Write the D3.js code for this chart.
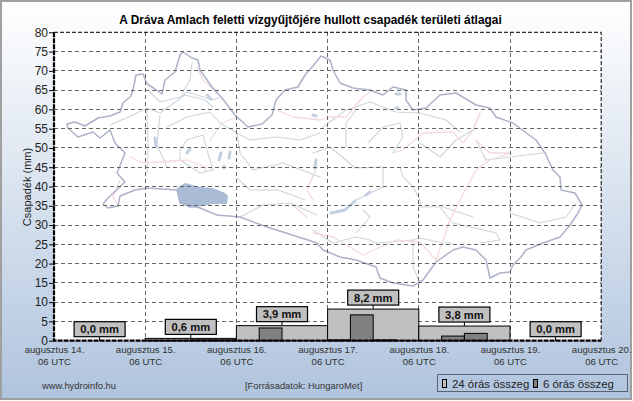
<!DOCTYPE html>
<html>
  <head>
    <meta charset="utf-8" />
    <title>Csapadék területi átlagai</title>
    <style>
      html, body { margin: 0; padding: 0; background: #fff; }
      svg { display: block; font-family: "Liberation Sans", Arial, sans-serif; }
      .grid { stroke: #666; stroke-width: 1; stroke-dasharray: 4,3; shape-rendering: crispEdges; }
      .box { fill: #c0c0c0; stroke: #000; stroke-width: 1.2; }
    </style>
  </head>
  <body>
    <div id="chart"></div>
    <script src="https://d3js.org/d3.v7.min.js"></script>
    <script>
      var titleText = "A Dráva Amlach feletti vízgyűjtőjére hullott csapadék területi átlagai";
      var dayLabels = ["augusztus 14.", "augusztus 15.", "augusztus 16.", "augusztus 17.", "augusztus 18.", "augusztus 19.", "augusztus 20."];
      var hourLabel = "06 UTC";
      var yTicks = d3.range(0, 85, 5);

      // 24 hour totals, one per day
      var dailySum = [0.0, 0.6, 3.9, 8.2, 3.8, 0.0];
      // 6 hour totals, four per day
      var sixHourSum = [
        0, 0, 0, 0,
        0.1, 0.1, 0.2, 0.2,
        0, 3.3, 0, 0,
        0.2, 6.7, 0.2, 0,
        0, 1.2, 1.9, 0,
        0, 0, 0, 0
      ];

      // backdrop map, traced in the map's own units
      var mapOutline = [[67,124],[75,122],[85,126],[98,118],[110,116],[120,112],[123,103],[131,96],[134,85],[136,75],[143,74],[147,84],[155,89],[162,94],[165,80],[175,72],[180,55],[183,52],[192,58],[198,60],[200,70],[212,87],[222,98],[235,115],[248,127],[262,124],[272,115],[276,100],[285,90],[298,87],[305,75],[313,66],[321,56],[330,60],[333,70],[340,83],[353,88],[370,90],[383,95],[393,87],[406,90],[406,100],[413,110],[426,108],[440,95],[456,93],[476,105],[490,108],[496,117],[513,123],[536,140],[545,153],[553,170],[560,177],[561,190],[575,193],[582,205],[578,213],[570,225],[560,237],[543,243],[526,250],[521,257],[513,265],[510,272],[500,273],[490,278],[486,260],[476,250],[463,247],[453,250],[436,262],[423,280],[413,286],[393,283],[380,278],[376,267],[356,260],[340,257],[323,250],[317,243],[283,232],[267,227],[240,217],[217,215],[200,208],[180,203],[177,190],[147,188],[135,190],[120,196],[118,206],[108,208],[103,204],[107,199],[125,182],[117,173],[125,153],[115,143],[110,130],[100,138],[93,132],[78,137],[68,128],[67,124]];
      var mapRivers = [
        [[110,125],[133,115],[147,108],[160,113],[185,95],[205,100],[213,107]],
        [[147,110],[148,150],[147,173]],
        [[148,90],[160,102],[180,97],[187,92],[213,100],[220,97]],
        [[192,63],[190,80],[182,93]],
        [[167,127],[187,117],[210,112],[220,123],[237,133],[250,140],[277,137],[300,140],[320,133]],
        [[180,150],[187,140],[203,135],[207,150],[213,170],[200,173],[180,160],[180,150]],
        [[237,133],[240,153],[253,170],[283,163],[320,177]],
        [[160,115],[157,145],[167,167]],
        [[313,153],[330,147],[346,160],[355,168],[383,167]],
        [[323,127],[346,110],[370,102],[396,112],[420,113],[446,120],[460,132]],
        [[346,147],[346,123],[356,110]],
        [[368,143],[383,127],[400,123],[403,137],[393,153]],
        [[420,143],[440,157],[456,140],[473,130],[480,113]],
        [[476,140],[486,160],[510,157],[543,153]],
        [[400,167],[403,177],[413,187],[420,200],[420,207]],
        [[383,167],[383,187],[356,200]],
        [[313,230],[333,243],[356,237],[370,240],[376,243],[413,240],[420,238],[443,243],[453,243]],
        [[413,240],[413,267],[420,283]],
        [[363,210],[370,217],[356,233]],
        [[440,207],[453,223],[496,233],[500,240],[480,243]],
        [[510,200],[510,213],[540,223],[566,217],[576,203]],
        [[420,207],[443,207],[473,217]],
        [[240,217],[263,205],[290,203],[317,215]],
        [[237,178],[250,190],[278,190],[305,200]]
      ];
      var mapBorders = [
        [[130,157],[143,163],[187,160],[207,167],[203,173]],
        [[120,180],[113,197],[118,205]],
        [[197,67],[203,80],[217,93]],
        [[210,140],[222,123],[237,117]],
        [[277,110],[293,117],[320,120],[330,117],[346,117],[363,97],[373,90]],
        [[393,153],[403,150],[423,133],[453,132],[463,143],[473,130],[480,113]],
        [[476,140],[490,153],[510,153],[490,160],[476,170],[460,200],[450,220],[436,260]],
        [[313,233],[333,237],[363,255],[396,240],[420,242],[436,260]],
        [[290,203],[307,217]],
        [[317,167],[307,190],[313,200]]
      ];
      var mapLakes = [
        [[155,138],[156,146]], [[190,149],[187,153]], [[221,153],[219,160]], [[230,152],[229,158]],
        [[224,166],[224,168]], [[207,95],[211,99]], [[316,160],[315,168]], [[396,108],[398,108]],
        [[396,94],[400,94]], [[313,115],[316,116]], [[370,192],[366,195]], [[331,213],[345,210],[355,201]]
      ];
      var balaton = [[185,183],[177,188],[179,197],[180,203],[190,208],[197,207],[213,204],[227,204],[228,196],[225,193],[213,188],[200,187],[185,183]];

      var width = 633, height = 401;
      var plot = { left: 54, right: 601.2, top: 32.3, bottom: 340.7 };

      var x = d3.scaleLinear().domain([0, 6]).range([plot.left, plot.right]);
      var y = d3.scaleLinear().domain([0, 80]).range([plot.bottom, plot.top]);

      var svg = d3.select("#chart").append("svg")
        .attr("width", width)
        .attr("height", height);

      var grad = svg.append("defs").append("linearGradient")
        .attr("id", "bg").attr("x1", 0).attr("y1", 0).attr("x2", 0).attr("y2", 1);
      grad.append("stop").attr("offset", "0%").attr("stop-color", "#ffffff");
      grad.append("stop").attr("offset", "100%").attr("stop-color", "#b0c4de");

      svg.append("rect")
        .attr("x", 1).attr("y", 1)
        .attr("width", width - 3).attr("height", height - 3)
        .attr("fill", "url(#bg)")
        .attr("stroke", "#a0a0a0")
        .attr("stroke-width", 2);

      svg.append("rect")
        .attr("x", plot.left).attr("y", plot.top)
        .attr("width", plot.right - plot.left).attr("height", plot.bottom - plot.top)
        .attr("fill", "#fff");

      // map
      var mapPath = d3.geoPath(d3.geoIdentity());
      function drawLines(lines, color, w) {
        svg.append("path")
          .attr("d", mapPath({ type: "MultiLineString", coordinates: lines }))
          .attr("fill", "none")
          .attr("stroke", color)
          .attr("stroke-width", w)
          .attr("stroke-linecap", "round")
          .attr("stroke-linejoin", "round");
      }
      drawLines(mapRivers, "#ccd6de", 1.1);
      drawLines(mapBorders, "#f4dadd", 1.3);
      drawLines(mapLakes, "#c3d0e0", 3);
      svg.append("path")
        .attr("d", d3.line()(balaton))
        .attr("fill", "#aabbd6");
      drawLines([mapOutline], "#acb2c8", 1.5);

      // grid
      svg.append("g").selectAll("line")
        .data(yTicks.slice(1, -1))
        .enter().append("line")
        .attr("class", "grid")
        .attr("x1", plot.left).attr("x2", plot.right)
        .attr("y1", d => y(d)).attr("y2", d => y(d));
      svg.append("g").selectAll("line")
        .data(d3.range(1, 6))
        .enter().append("line")
        .attr("class", "grid")
        .attr("x1", d => x(d)).attr("x2", d => x(d))
        .attr("y1", plot.top).attr("y2", plot.bottom);

      // 24 hour bars
      svg.append("g").selectAll("rect")
        .data(dailySum)
        .enter().append("rect")
        .attr("x", (d, i) => x(i))
        .attr("y", d => y(d))
        .attr("width", x(1) - x(0))
        .attr("height", d => y(0) - y(d))
        .attr("fill", "#c0c0c0")
        .attr("stroke", d => d > 0 ? "#000" : "none");

      // 6 hour bars
      svg.append("g").selectAll("rect")
        .data(sixHourSum)
        .enter().append("rect")
        .attr("x", (d, i) => x(i / 4))
        .attr("y", d => y(d))
        .attr("width", x(0.25) - x(0))
        .attr("height", d => y(0) - y(d))
        .attr("fill", "#808080")
        .attr("stroke", d => d > 0 ? "#000" : "none");

      // frame
      svg.append("path")
        .attr("d", `M${plot.left},${plot.top}H${plot.right}V${plot.bottom}`)
        .attr("fill", "none")
        .attr("stroke", "#000")
        .attr("stroke-dasharray", "4,2");
      svg.append("path")
        .attr("d", `M${plot.left},${plot.top}V${plot.bottom}H${plot.right}`)
        .attr("fill", "none")
        .attr("stroke", "#000")
        .attr("stroke-width", 2.2)
        .attr("stroke-dasharray", "5,1");

      // y axis
      var yAxis = svg.append("g")
        .attr("transform", `translate(${plot.left},0)`)
        .call(d3.axisLeft(y).tickValues(yTicks).tickSize(5).tickPadding(1));
      yAxis.select(".domain").remove();
      yAxis.selectAll("text")
        .attr("font-size", 12)
        .attr("font-family", "Liberation Sans")
        .attr("fill", "#222");

      // x axis, two line labels
      var xAxis = svg.append("g")
        .attr("transform", `translate(0,${plot.bottom})`)
        .call(d3.axisBottom(x).tickValues(d3.range(0, 7)).tickSize(0).tickFormat(""));
      xAxis.select(".domain").remove();
      var xLab = xAxis.selectAll(".tick text")
        .attr("y", 0).attr("dy", null)
        .attr("font-size", 9.6)
        .attr("font-family", "Liberation Sans")
        .attr("fill", "#333");
      xLab.append("tspan").attr("x", 0).attr("y", 12.5).text((d, i) => dayLabels[i]);
      xLab.append("tspan").attr("x", 0).attr("y", 24.5).text(hourLabel);

      // value labels
      var fmt = d => d.toFixed(1).replace(".", ",") + " mm";
      var labels = svg.append("g").selectAll("g")
        .data(dailySum)
        .enter().append("g")
        .attr("transform", (d, i) => `translate(${x(i + 0.5)},${y(d)})`);
      labels.append("line")
        .attr("y1", -4).attr("y2", 0)
        .attr("stroke", "#000");
      labels.append("rect")
        .attr("class", "box")
        .attr("x", -25.5).attr("y", -19)
        .attr("width", 51).attr("height", 15);
      labels.append("text")
        .attr("y", -7.5)
        .attr("text-anchor", "middle")
        .attr("font-size", 11.2)
        .attr("font-weight", "bold")
        .attr("fill", "#111")
        .text(fmt);

      // title and other text
      svg.append("text")
        .attr("x", 310.5).attr("y", 24)
        .attr("text-anchor", "middle")
        .attr("font-size", 11.9)
        .attr("font-weight", "bold")
        .text(titleText);
      svg.append("text")
        .attr("transform", "translate(31,187) rotate(-90)")
        .attr("text-anchor", "middle")
        .attr("font-size", 11)
        .attr("fill", "#222")
        .text("Csapadék (mm)");
      svg.append("text")
        .attr("x", 42).attr("y", 389)
        .attr("font-size", 9.4)
        .attr("fill", "#333")
        .text("www.hydroinfo.hu");
      svg.append("text")
        .attr("x", 245).attr("y", 389)
        .attr("font-size", 9.4)
        .attr("fill", "#333")
        .text("[Forrásadatok: HungaroMet]");

      // legend
      var legend = svg.append("g");
      legend.append("rect")
        .attr("x", 437.5).attr("y", 374.5)
        .attr("width", 190).attr("height", 17)
        .attr("fill", "none")
        .attr("stroke", "#000")
        .attr("stroke-dasharray", "1,1");
      var legendItems = [["24 órás összeg", "#c0c0c0", 442.5], ["6 órás összeg", "#808080", 533.5]];
      legendItems.forEach(function(item) {
        legend.append("rect")
          .attr("x", item[2]).attr("y", 379.5)
          .attr("width", 4).attr("height", 8)
          .attr("fill", item[1])
          .attr("stroke", "#000");
        legend.append("text")
          .attr("x", item[2] + 9.5).attr("y", 388)
          .attr("font-size", 11.4)
          .attr("fill", "#222")
          .text(item[0]);
      });
    </script>
  </body>
</html>
